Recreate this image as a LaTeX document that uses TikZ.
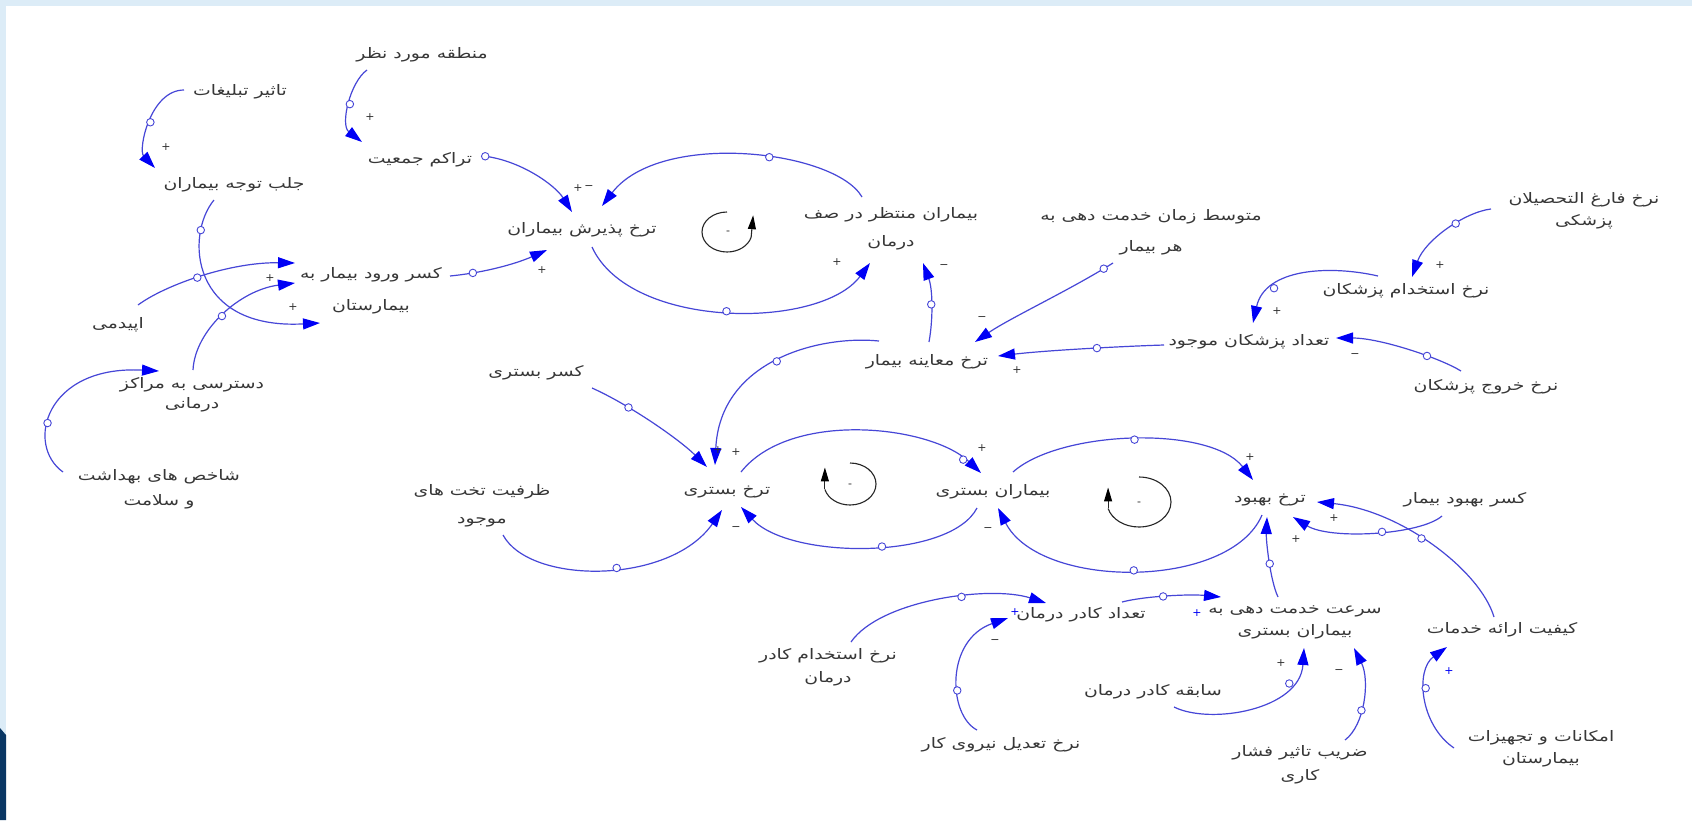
\documentclass[tikz,border=0pt]{standalone}
\usepackage{fontspec}
\setmainfont{DejaVu Sans}
\newfontfamily\arabicfont[Script=Arabic,FakeStretch=1.3]{DejaVu Sans}
\TeXXeTstate=1
\usetikzlibrary{arrows.meta,calc}
\definecolor{lnk}{RGB}{70,70,215}
\definecolor{tipc}{RGB}{0,0,245}
\definecolor{txt}{RGB}{55,55,55}
\definecolor{framec}{RGB}{220,236,247}
\definecolor{navyc}{RGB}{10,55,100}
\newcommand{\AR}[1]{\beginR #1\endR}
\tikzset{
 var/.style={text=txt, font=\arabicfont\fontsize{14.5}{22}\selectfont, inner sep=0pt, align=center},
 lk/.style={draw=lnk, line width=1.2pt, -{Triangle[length=17pt,width=11pt,color=tipc]}},
 hc/.style={circle, draw=lnk, fill=white, line width=0.9pt, minimum size=7.5pt, inner sep=0pt},
 sg/.style={text=black!80, font=\fontsize{11}{11}\selectfont, inner sep=0pt},
 sgb/.style={sg, text=tipc},
 loopc/.style={draw=black!85, line width=1.1pt},
 looptip/.style={draw=black!85, line width=1.1pt, -{Triangle[length=14pt,width=8pt,color=black]}},
}
\begin{document}
\begin{tikzpicture}[x=1pt,y=-1pt]
\useasboundingbox (0,0) rectangle (1692,820);
\fill[white] (0,0) rectangle (1692,820);
\fill[framec] (0,0) rectangle (1692,6);
\fill[framec] (0,0) rectangle (6,820);
\fill[navyc] (0,728) -- (6,735) -- (6,820) -- (0,820) -- cycle;

% variables
\node[var] (mantaghe) at (422,55) {\AR{منطقه مورد نظر}};
\node[var] (tasir) at (240,92) {\AR{تاثیر تبلیغات}};
\node[var] (tarakom) at (420,160) {\AR{تراکم جمعیت}};
\node[var] (jalb) at (234,185) {\AR{جلب توجه بیماران}};
\node[var] (paziresh) at (582,230) {\AR{ترخ پذیرش بیماران}};
\node[var] (montazer) at (891,229) {\AR{بیماران منتظر در صف}\\[6pt]\AR{درمان}};
\node[var] (motavaset) at (1151,232) {\AR{متوسط زمان خدمت دهی به}\\[9pt]\AR{هر بیمار}};
\node[var] (fareq) at (1584,211) {\AR{نرخ فارغ التحصیلان}\\\AR{پزشکی}};
\node[var] (estekhdamP) at (1406,291) {\AR{نرخ استخدام پزشکان}};
\node[var] (kasrVorud) at (371,291) {\AR{کسر ورود بیمار به}\\[10pt]\AR{بیمارستان}};
\node[var] (epidemi) at (118,325) {\AR{اپیدمی}};
\node[var] (dastresi) at (192,395) {\AR{دسترسی به مراکز}\\[-2pt]\AR{درمانی}};
\node[var] (shakhes) at (159,489) {\AR{شاخص های بهداشت}\\[3pt]\AR{و سلامت}};
\node[var] (moayene) at (927,362) {\AR{ترخ معاینه بیمار}};
\node[var] (tedadP) at (1249,342) {\AR{تعداد پزشکان موجود}};
\node[var] (khoruj) at (1486,387) {\AR{نرخ خروج پزشکان}};
\node[var] (kasrBastari) at (536,373) {\AR{کسر بستری}};
\node[var] (bastariRate) at (727,492) {\AR{ترخ بستری}};
\node[var] (bastariPat) at (993,492) {\AR{بیماران بستری}};
\node[var] (behbud) at (1270,500) {\AR{ترخ بهبود}};
\node[var] (kasrBehbud) at (1465,500) {\AR{کسر بهبود بیمار}};
\node[var] (zarfiat) at (482,506) {\AR{ظرفیت تخت های}\\[6pt]\AR{موجود}};
\node[var] (tedadK) at (1081,615) {\AR{تعداد کادر درمان}};
\node[var] (sorat) at (1295,622) {\AR{سرعت خدمت دهی به}\\\AR{بیماران بستری}};
\node[var] (keyfiat) at (1502,630) {\AR{کیفیت ارائه خدمات}};
\node[var] (estekhdamK) at (828,667) {\AR{نرخ استخدام کادر}\\[1pt]\AR{درمان}};
\node[var] (sabeghe) at (1153,692) {\AR{سابقه کادر درمان}};
\node[var] (tadil) at (1001,745) {\AR{نرخ تعدیل نیروی کار}};
\node[var] (zarib) at (1300,765) {\AR{ضریب تاثیر فشار}\\[2pt]\AR{کاری}};
\node[var] (emkanat) at (1541,749) {\AR{امکانات و تجهیزات}\\\AR{بیمارستان}};

% links
\draw[lk] ($(tasir)+(-56,-2)$) .. controls (150,90) and (138,150) .. ($(jalb)+(-79,-17)$) node[hc,pos=.5]{};
\draw[lk] ($(mantaghe)+(-55,15)$) .. controls (350,82) and (340,125) .. ($(tarakom)+(-58,-18)$) node[hc,pos=.5]{};
\draw[lk] ($(tarakom)+(63,-4)$) .. controls (520,160) and (555,185) .. ($(paziresh)+(-10,-18)$) node[hc,pos=.02]{};
\draw[lk] ($(montazer)+(-29,-32)$) .. controls (835,150) and (660,130) .. ($(paziresh)+(20,-24)$) node[hc,pos=.42]{};
\draw[lk] ($(paziresh)+(10,17)$) .. controls (630,330) and (820,330) .. ($(montazer)+(-21,34)$) node[hc,pos=.5]{};
\draw[lk] ($(moayene)+(2,-20)$) .. controls (933,320) and (933,290) .. ($(montazer)+(32,34)$) node[hc,pos=.5]{};
\draw[lk] ($(motavaset)+(-38,31)$) .. controls (1070,290) and (1010,318) .. ($(moayene)+(48,-20)$) node[hc,pos=.07]{};
\draw[lk] ($(fareq)+(-93,-2)$) .. controls (1465,212) and (1425,240) .. ($(estekhdamP)+(6,-14)$) node[hc,pos=.4]{};
\draw[lk] ($(estekhdamP)+(-28,-15)$) .. controls (1330,265) and (1265,268) .. ($(tedadP)+(4,-19)$) node[hc,pos=.72]{};
\draw[lk] ($(tedadP)+(-85,3)$) .. controls (1130,346) and (1050,350) .. ($(moayene)+(71,-6)$) node[hc,pos=.45]{};
\draw[lk] ($(khoruj)+(-25,-16)$) .. controls (1440,358) and (1380,338) .. ($(tedadP)+(87,-4)$) node[hc,pos=.35]{};
\draw[lk] ($(jalb)+(-20,15)$) .. controls (185,235) and (190,330) .. ($(kasrVorud)+(-51,32)$) node[hc,pos=.22]{};
\draw[lk] ($(epidemi)+(20,-20)$) .. controls (165,285) and (230,262) .. ($(kasrVorud)+(-76,-28)$) node[hc,pos=.47]{};
\draw[lk] ($(dastresi)+(1,-25)$) .. controls (195,330) and (240,290) .. ($(kasrVorud)+(-76,-8)$) node[hc,pos=.48]{};
\draw[lk] ($(shakhes)+(-96,-17)$) .. controls (25,445) and (45,365) .. ($(dastresi)+(-33,-24)$) node[hc,pos=.4]{};
\draw[lk] ($(kasrVorud)+(79,-15)$) .. controls (490,272) and (520,262) .. ($(paziresh)+(-35,20)$) node[hc,pos=.2]{};
\draw[lk] ($(kasrBastari)+(56,15)$) .. controls (630,405) and (680,440) .. ($(bastariRate)+(-20,-25)$) node[hc,pos=.3]{};
\draw[lk] ($(moayene)+(-48,-21)$) .. controls (820,335) and (720,360) .. ($(bastariRate)+(-12,-27)$) node[hc,pos=.5]{};
\draw[lk] ($(bastariRate)+(14,-20)$) .. controls (790,410) and (930,425) .. ($(bastariPat)+(-12,-19)$) node[hc,pos=.9]{};
\draw[lk] ($(bastariPat)+(-16,16)$) .. controls (950,560) and (790,560) .. ($(bastariRate)+(14,15)$) node[hc,pos=.45]{};
\draw[lk] ($(zarfiat)+(21,29)$) .. controls (530,585) and (670,585) .. ($(bastariRate)+(-5,18)$) node[hc,pos=.55]{};
\draw[lk] ($(bastariPat)+(20,-20)$) .. controls (1060,430) and (1210,425) .. ($(behbud)+(-17,-20)$) node[hc,pos=.5]{};
\draw[lk] ($(behbud)+(-8,15)$) .. controls (1230,590) and (1040,590) .. ($(bastariPat)+(5,16)$) node[hc,pos=.5]{};
\draw[lk] ($(sorat)+(-17,-25)$) .. controls (1270,580) and (1266,540) .. ($(behbud)+(-3,17)$) node[hc,pos=.45]{};
\draw[lk] ($(kasrBehbud)+(-23,16)$) .. controls (1420,535) and (1330,540) .. ($(behbud)+(23,17)$) node[hc,pos=.45]{};
\draw[lk] ($(keyfiat)+(-8,-13)$) .. controls (1480,570) and (1400,510) .. ($(behbud)+(47,2)$) node[hc,pos=.55]{};
\draw[lk] ($(tedadK)+(41,-13)$) .. controls (1145,596) and (1190,594) .. ($(sorat)+(-74,-25)$) node[hc,pos=.45]{};
\draw[lk] ($(tadil)+(-24,-15)$) .. controls (948,715) and (945,640) .. ($(tedadK)+(-73,3)$) node[hc,pos=.4]{};
\draw[lk] ($(estekhdamK)+(23,-25)$) .. controls (880,600) and (990,585) .. ($(tedadK)+(-35,-12)$) node[hc,pos=.6]{};
\draw[lk] ($(sabeghe)+(21,15)$) .. controls (1210,725) and (1300,710) .. ($(sorat)+(9,26)$) node[hc,pos=.77]{};
\draw[lk] ($(zarib)+(45,-25)$) .. controls (1365,725) and (1370,680) .. ($(sorat)+(59,26)$) node[hc,pos=.4]{};
\draw[lk] ($(emkanat)+(-87,-1)$) .. controls (1420,725) and (1415,670) .. ($(keyfiat)+(-55,17)$) node[hc,pos=.58]{};

% loops
\draw[loopc] (727,232) ++(270:25 and 20) arc[start angle=270,end angle=15,x radius=25,y radius=20] coordinate (l1e);
\draw[looptip] (l1e) -- ++(2,-22);
\node[sg] (l1s) at (728,233) {-};
\draw[loopc] (850,484) ++(270:26 and 21) arc[start angle=270,end angle=525,x radius=26,y radius=21] coordinate (l2e);
\draw[looptip] (l2e) -- ++(0,-22);
\node[sg] (l2s) at (850,486) {-};
\draw[loopc] (1139,502) ++(270:32 and 25) arc[start angle=270,end angle=525,x radius=32,y radius=25] coordinate (l3e);
\draw[looptip] (l3e) -- ++(0,-21);
\node[sg] (l3s) at (1139,504) {-};

% polarity signs
\node[sg] (s1) at (166,147) {+};
\node[sg] (s2) at (370,117) {+};
\node[sg] (s3) at (578,188) {+};
\node[sg] (s4) at (589,188) {−};
\node[sg] (s5) at (837,262) {+};
\node[sg] (s6) at (944,267) {−};
\node[sg] (s7) at (982,319) {−};
\node[sg] (s8) at (1440,265) {+};
\node[sg] (s9) at (1277,311) {+};
\node[sg] (s10) at (1017,370) {+};
\node[sg] (s11) at (1355,356) {−};
\node[sg] (s12) at (293,307) {+};
\node[sg] (s13) at (270,278) {+};
\node[sg] (s14) at (542,270) {+};
\node[sg] (s15) at (718,450) {+};
\node[sg] (s16) at (736,452) {+};
\node[sg] (s17) at (982,448) {+};
\node[sg] (s18) at (736,529) {−};
\node[sg] (s19) at (988,530) {−};
\node[sg] (s20) at (1250,457) {+};
\node[sg] (s21) at (1296,539) {+};
\node[sg] (s22) at (1334,518) {+};
\node[sgb] (s23) at (1197,613) {+};
\node[sg] (s24) at (995,642) {−};
\node[sgb] (s25) at (1015,612) {+};
\node[sg] (s26) at (1281,663) {+};
\node[sg] (s27) at (1339,672) {−};
\node[sgb] (s28) at (1449,671) {+};
\end{tikzpicture}
\end{document}
